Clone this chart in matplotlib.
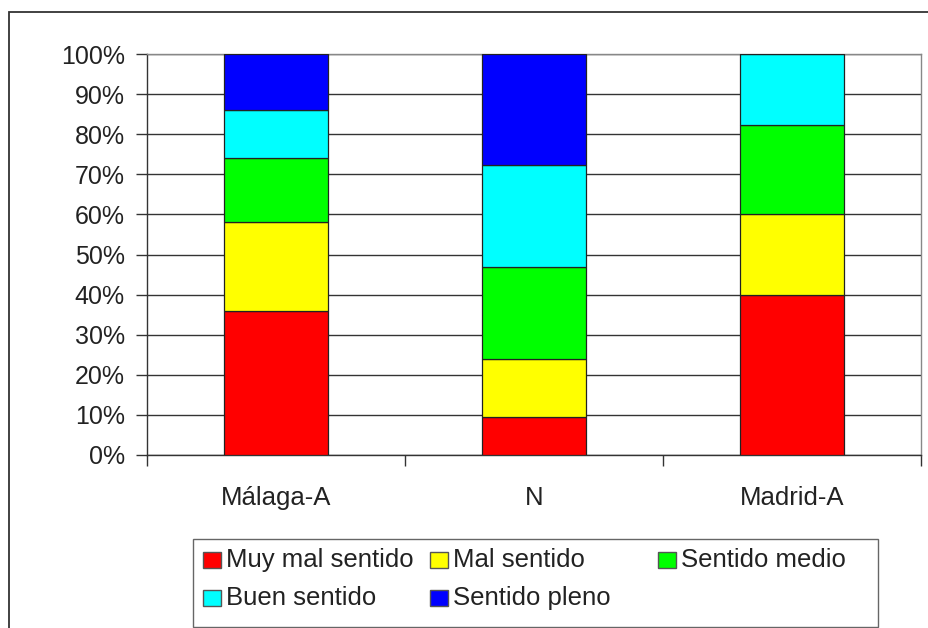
import numpy as np
import matplotlib.pyplot as plt
from matplotlib.patches import Rectangle

plt.rcParams['font.family'] = ['Liberation Sans', 'DejaVu Sans']

categories = ['Málaga-A', 'N', 'Madrid-A']
series = ['Muy mal sentido', 'Mal sentido', 'Sentido medio', 'Buen sentido', 'Sentido pleno']
colors = ['#ff0000', '#ffff00', '#00ff00', '#00ffff', '#0000ff']

muy_mal = [36.0, 9.5, 40.0]
mal = [22.0, 14.5, 20.0]
medio = [16.0, 23.0, 22.4]
buen = [12.0, 25.3, 17.6]
pleno = [14.0, 27.7, 0.0]
values = [muy_mal, mal, medio, buen, pleno]

W, H = 929, 628
fig = plt.figure(figsize=(W/100, H/100), dpi=100)

def fx(px):
    return px/W
def fy(py):
    return 1-py/H

# outer chart frame (cut at right and bottom)
fig.patches.append(Rectangle((fx(9), -0.1), 1.2, fy(12)+0.1, transform=fig.transFigure,
                             fill=False, edgecolor='#333333', lw=1.3))

ax = fig.add_axes([fx(147), fy(455), (921-147)/W, (455-54)/H])
x = np.arange(len(categories))
bottom = np.zeros(len(categories))
for vals, col, name in zip(values, colors, series):
    v = np.array(vals)
    ax.bar(x, v, 0.403, bottom=bottom, color=col, edgecolor='#222222', lw=0.9, label=name, zorder=3)
    bottom += v

ax.set_xlim(-0.5, 2.5)
ax.set_ylim(0, 100)
ax.set_yticks(np.arange(0, 101, 10))
ax.set_yticklabels([f'{t}%' for t in range(0, 101, 10)], fontsize=18, color='#222222')
ax.yaxis.grid(True, color='#333333', lw=1.0, zorder=0)
ax.tick_params(axis='y', length=8, width=1, color='#333333', pad=8)

ax.set_xticks([-0.5, 0.5, 1.5, 2.5])
ax.set_xticklabels([])
ax.set_xticks(x, minor=True)
ax.set_xticklabels(categories, minor=True, fontsize=18.5, color='#222222')
ax.tick_params(axis='x', which='major', length=8, width=1, color='#333333')
ax.tick_params(axis='x', which='minor', length=0, pad=22)

for s in ['top', 'right']:
    ax.spines[s].set_color('#888888')
for s in ['left', 'bottom']:
    ax.spines[s].set_color('#333333')
for s in ax.spines.values():
    s.set_linewidth(1.0)

# legend box drawn by hand to match the uneven layout
fig.patches.append(Rectangle((fx(193), fy(627)), (878-193)/W, (627-539)/H,
                             transform=fig.transFigure, fill=False, edgecolor='#666666', lw=1.0))
leg_pos = [(203, 560), (430, 560), (658, 560), (203, 598), (430, 598)]
for (px, py), col, name in zip(leg_pos, colors, series):
    fig.patches.append(Rectangle((fx(px), fy(py+8)), 18/W, 16/H, transform=fig.transFigure,
                                 facecolor=col, edgecolor='#555555', lw=1.0))
    fig.text(fx(px+23), fy(py), name, fontsize=18.5, color='#222222', va='center', ha='left')

fig.savefig('out.png', dpi=100)
